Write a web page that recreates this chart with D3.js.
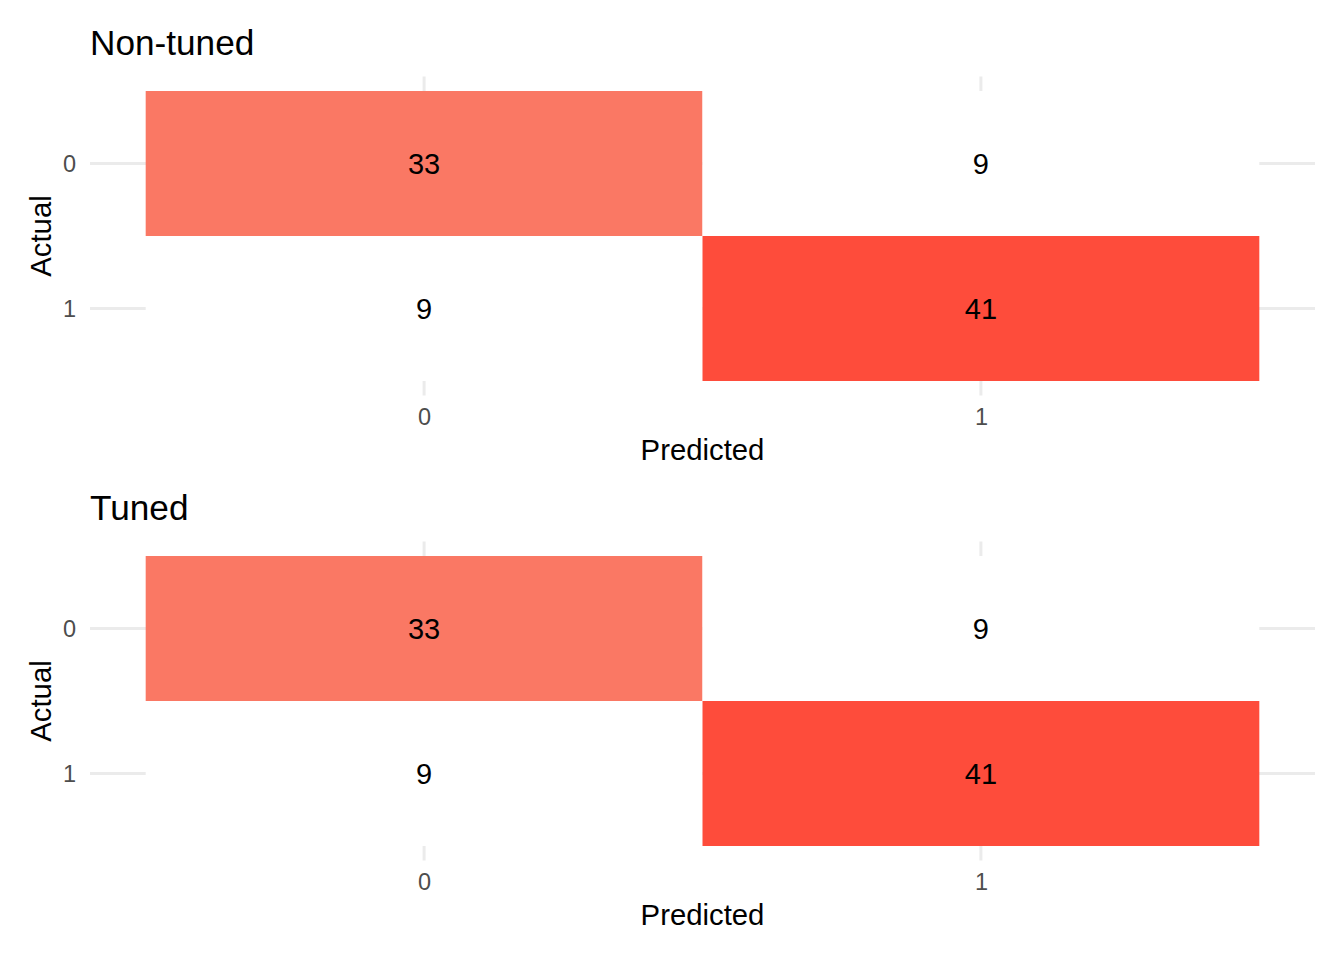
<!DOCTYPE html>
<html>
<head>
<meta charset="utf-8">
<script src="https://cdn.jsdelivr.net/npm/d3@7"></script>
<style>
  html, body { margin: 0; padding: 0; background: #ffffff; }
  svg { display: block; font-family: "Liberation Sans", Arial, Helvetica, sans-serif; }
</style>
</head>
<body>
<svg id="chart" width="1344" height="960"></svg>
<script>
// ---- data ----
const panelTitles = ["Non-tuned", "Tuned"];
const predictedLabels = ["0", "1"];
const actualLabels = ["0", "1"];
// rows = actual, columns = predicted
const nonTunedCounts = [[33, 9], [9, 41]];
const tunedCounts = [[33, 9], [9, 41]];
const panelCounts = [nonTunedCounts, tunedCounts];

// ---- style ----
const W = 1344, H = 960;
const panelLeft = 90, panelRight = 1315;
const panelTopOffsets = [76.5, 541.5];
const panelHeight = 319;
const gridColor = "#EBEBEB";
const tickColor = "#4D4D4D";

const fill = d3.scaleLinear()
  .domain([9, 33, 41])
  .range(["#FFFFFF", "#FA7864", "#FE4C3B"]);

const svg = d3.select("#chart");
svg.append("rect").attr("width", W).attr("height", H).attr("fill", "#fff");

panelCounts.forEach((counts, p) => {
  const top = panelTopOffsets[p];
  const bottom = top + panelHeight;
  const g = svg.append("g");

  const x = d3.scalePoint().domain(predictedLabels).range([panelLeft, panelRight]).padding(0.6);
  const y = d3.scalePoint().domain(actualLabels).range([top, bottom]).padding(0.6);
  const sx = x.step(), sy = y.step();

  // gridlines
  g.append("g").selectAll("line").data(predictedLabels).join("line")
    .attr("x1", d => x(d)).attr("x2", d => x(d))
    .attr("y1", top).attr("y2", bottom)
    .attr("stroke", gridColor).attr("stroke-width", 3);
  g.append("g").selectAll("line").data(actualLabels).join("line")
    .attr("y1", d => y(d)).attr("y2", d => y(d))
    .attr("x1", panelLeft).attr("x2", panelRight)
    .attr("stroke", gridColor).attr("stroke-width", 3);

  // tiles
  const cells = [];
  actualLabels.forEach((a, i) => predictedLabels.forEach((pr, j) => {
    cells.push({ actual: a, predicted: pr, n: counts[i][j] });
  }));
  g.append("g").selectAll("rect").data(cells).join("rect")
    .attr("x", d => x(d.predicted) - sx / 2)
    .attr("y", d => y(d.actual) - sy / 2)
    .attr("width", sx).attr("height", sy)
    .attr("fill", d => fill(d.n));
  g.append("g").selectAll("text").data(cells).join("text")
    .attr("x", d => x(d.predicted))
    .attr("y", d => y(d.actual))
    .attr("dy", "0.36em")
    .attr("text-anchor", "middle")
    .attr("font-size", 29)
    .attr("fill", "#000")
    .text(d => d.n);

  // x axis
  const xAxis = d3.axisBottom(x).tickSize(0).tickPadding(0);
  const xa = g.append("g").attr("transform", `translate(0,${bottom + 13})`).call(xAxis);
  xa.select(".domain").remove();
  xa.selectAll("text").attr("font-size", 23.5).attr("fill", tickColor)
    .attr("font-family", null).attr("dy", "0.72em");

  // y axis
  const yAxis = d3.axisLeft(y).tickSize(0).tickPadding(0);
  const ya = g.append("g").attr("transform", `translate(${panelLeft - 14},0)`).call(yAxis);
  ya.select(".domain").remove();
  ya.selectAll("text").attr("font-size", 23.5).attr("fill", tickColor)
    .attr("font-family", null).attr("dy", "0.36em");

  // axis titles
  g.append("text")
    .attr("x", (panelLeft + panelRight) / 2)
    .attr("y", bottom + 64.5)
    .attr("text-anchor", "middle")
    .attr("font-size", 29.3)
    .attr("fill", "#000")
    .text("Predicted");
  g.append("text")
    .attr("transform", `translate(51,${(top + bottom) / 2}) rotate(-90)`)
    .attr("text-anchor", "middle")
    .attr("font-size", 29.3)
    .attr("fill", "#000")
    .text("Actual");

  // title
  g.append("text")
    .attr("x", panelLeft)
    .attr("y", top - 21.5)
    .attr("font-size", 35.2)
    .attr("fill", "#000")
    .text(panelTitles[p]);
});
</script>
</body>
</html>
